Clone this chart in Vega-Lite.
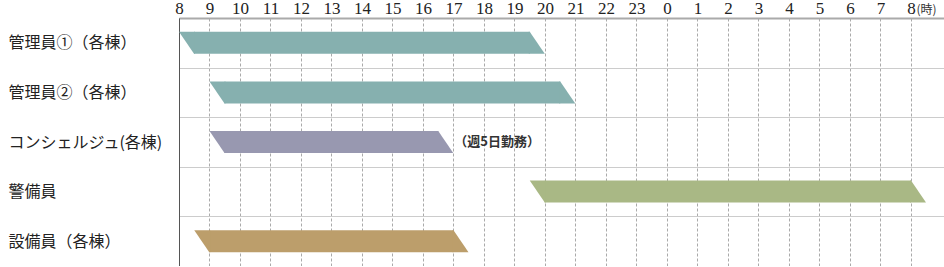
{
  "$schema": "https://vega.github.io/schema/vega-lite/v6.json",
  "width": 766,
  "height": 248,
  "autosize": {"type": "none"},
  "padding": {"left": 179, "top": 18, "right": 0, "bottom": 0},
  "background": "white",
  "data": {
    "values": [
      {"role": "管理員①（各棟）", "start": 8, "end": 19.5},
      {"role": "管理員②（各棟）", "start": 9, "end": 20.5},
      {"role": "コンシェルジュ(各棟)", "start": 9, "end": 16.5, "note": "（週5日勤務）"},
      {"role": "警備員", "start": 19.5, "end": 32},
      {"role": "設備員（各棟）", "start": 8.5, "end": 17}
    ]
  },
  "encoding": {
    "y": {
      "field": "role",
      "type": "nominal",
      "sort": null,
      "scale": {"paddingInner": 0, "paddingOuter": 0},
      "axis": {
        "title": null,
        "orient": "left",
        "labelAlign": "left",
        "labelBaseline": "middle",
        "labelPadding": 171,
        "ticks": false,
        "tickSize": 0,
        "tickBand": "extent",
        "domainColor": "#555",
        "domainWidth": 1,
        "grid": true,
        "gridColor": "#cccccc",
        "gridWidth": 1,
        "labelFont": "Noto Sans CJK JP",
        "labelFontSize": 16,
        "labelColor": "#222",
        "labelLimit": 200
      }
    }
  },
  "layer": [
    {
      "mark": {"type": "bar", "size": 22, "xOffset": 15, "opacity": 1},
      "encoding": {
        "x": {
          "field": "start",
          "type": "quantitative",
          "title": "(時)",
          "scale": {"domain": [8, 33.115], "nice": false, "zero": false},
          "axis": {
            "orient": "top",
            "values": [8, 9, 10, 11, 12, 13, 14, 15, 16, 17, 18, 19, 20, 21, 22, 23, 24, 25, 26, 27, 28, 29, 30, 31, 32],
            "labelExpr": "'' + (datum.value % 24)",
            "title": "(時)",
            "titleX": 737, "titleY": -5, "titleAlign": "left", "titleAnchor": "start", "titleBaseline": "alphabetic",
            "titleFontSize": 12, "titleFontWeight": "normal", "titleFont": "Noto Sans CJK JP", "titleColor": "#333",
            "labelFont": "Liberation Serif", "labelFontSize": 17, "labelColor": "#222", "labelPadding": 5, "labelBaseline": "alphabetic",
            "labelFlush": false, "labelOverlap": false, "ticks": false, "tickSize": 0,
            "domainColor": "#aaaaaa", "domainWidth": 2,
            "grid": true, "gridColor": "#aaaaaa", "gridDash": [3, 2], "gridWidth": 1
          }
        },
        "x2": {"field": "end"},
        "color": {
          "field": "role",
          "type": "nominal",
          "scale": {
            "domain": ["管理員①（各棟）", "管理員②（各棟）", "コンシェルジュ(各棟)", "警備員", "設備員（各棟）"],
            "range": ["#86b0af", "#86b0af", "#9898b0", "#a9b885", "#bc9e6b"]
          },
          "legend": null
        }
      }
    },
    {
      "mark": {"type": "point", "shape": "M0,-1L1.45,-1L1.45,1L1.3636,1Z", "size": 484, "filled": true, "opacity": 1, "strokeWidth": 0},
      "encoding": {
        "x": {
          "field": "start",
          "type": "quantitative",
          "title": "(時)",
          "axis": {
            "orient": "top",
            "values": [8, 9, 10, 11, 12, 13, 14, 15, 16, 17, 18, 19, 20, 21, 22, 23, 24, 25, 26, 27, 28, 29, 30, 31, 32],
            "labelExpr": "'' + (datum.value % 24)",
            "title": "(時)",
            "titleX": 737, "titleY": -5, "titleAlign": "left", "titleAnchor": "start", "titleBaseline": "alphabetic",
            "titleFontSize": 12, "titleFontWeight": "normal", "titleFont": "Noto Sans CJK JP", "titleColor": "#333",
            "labelFont": "Liberation Serif", "labelFontSize": 17, "labelColor": "#222", "labelPadding": 5, "labelBaseline": "alphabetic",
            "labelFlush": false, "labelOverlap": false, "ticks": false, "tickSize": 0,
            "domainColor": "#aaaaaa", "domainWidth": 2,
            "grid": true, "gridColor": "#aaaaaa", "gridDash": [3, 2], "gridWidth": 1
          }
        },
        "color": {"field": "role", "type": "nominal", "legend": null}
      }
    },
    {
      "mark": {"type": "point", "shape": "M-0.09,-1L0,-1L1.3636,1L-0.09,1Z", "size": 484, "filled": true, "opacity": 1, "strokeWidth": 0},
      "encoding": {
        "x": {
          "field": "end",
          "type": "quantitative",
          "title": "(時)",
          "axis": {
            "orient": "top",
            "values": [8, 9, 10, 11, 12, 13, 14, 15, 16, 17, 18, 19, 20, 21, 22, 23, 24, 25, 26, 27, 28, 29, 30, 31, 32],
            "labelExpr": "'' + (datum.value % 24)",
            "title": "(時)",
            "titleX": 737, "titleY": -5, "titleAlign": "left", "titleAnchor": "start", "titleBaseline": "alphabetic",
            "titleFontSize": 12, "titleFontWeight": "normal", "titleFont": "Noto Sans CJK JP", "titleColor": "#333",
            "labelFont": "Liberation Serif", "labelFontSize": 17, "labelColor": "#222", "labelPadding": 5, "labelBaseline": "alphabetic",
            "labelFlush": false, "labelOverlap": false, "ticks": false, "tickSize": 0,
            "domainColor": "#aaaaaa", "domainWidth": 2,
            "grid": true, "gridColor": "#aaaaaa", "gridDash": [3, 2], "gridWidth": 1
          }
        },
        "color": {"field": "role", "type": "nominal", "legend": null}
      }
    },
    {
      "transform": [{"filter": "isValid(datum.note)"}],
      "mark": {"type": "text", "align": "left", "baseline": "middle", "dx": 16, "font": "Noto Sans CJK JP", "fontSize": 13, "fontWeight": "bold", "color": "#333"},
      "encoding": {
        "x": {
          "field": "end",
          "type": "quantitative",
          "title": "(時)",
          "axis": {
            "orient": "top",
            "values": [8, 9, 10, 11, 12, 13, 14, 15, 16, 17, 18, 19, 20, 21, 22, 23, 24, 25, 26, 27, 28, 29, 30, 31, 32],
            "labelExpr": "'' + (datum.value % 24)",
            "title": "(時)",
            "titleX": 737, "titleY": -5, "titleAlign": "left", "titleAnchor": "start", "titleBaseline": "alphabetic",
            "titleFontSize": 12, "titleFontWeight": "normal", "titleFont": "Noto Sans CJK JP", "titleColor": "#333",
            "labelFont": "Liberation Serif", "labelFontSize": 17, "labelColor": "#222", "labelPadding": 5, "labelBaseline": "alphabetic",
            "labelFlush": false, "labelOverlap": false, "ticks": false, "tickSize": 0,
            "domainColor": "#aaaaaa", "domainWidth": 2,
            "grid": true, "gridColor": "#aaaaaa", "gridDash": [3, 2], "gridWidth": 1
          }
        },
        "text": {"field": "note"}
      }
    }
  ],
  "config": {
    "view": {"stroke": "#cccccc"}
  }
}
